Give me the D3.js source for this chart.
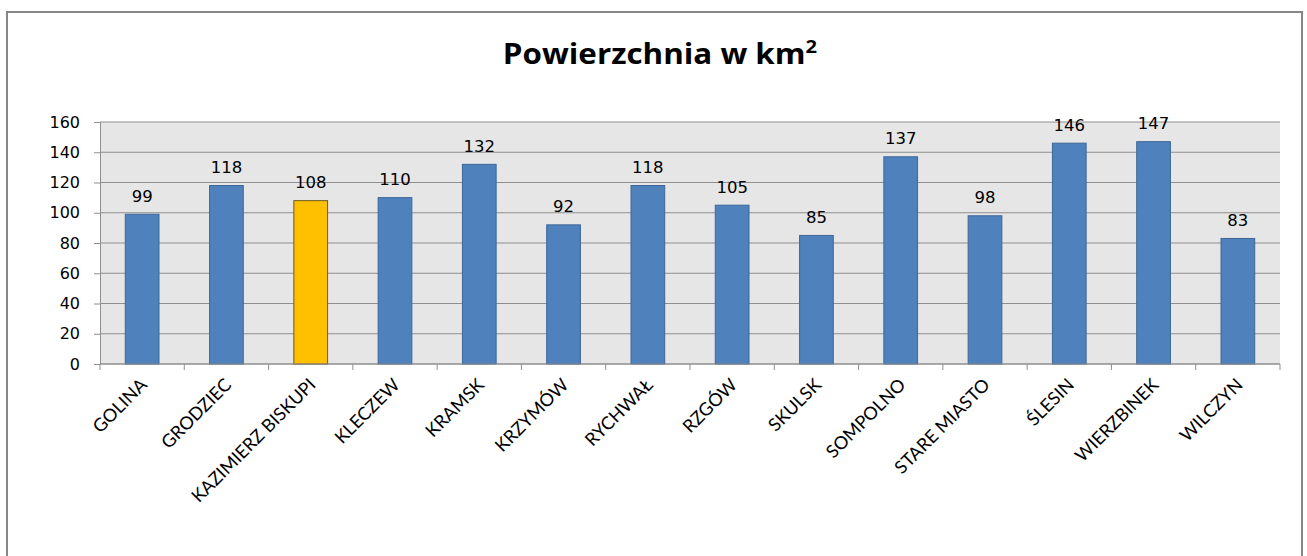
<!DOCTYPE html>
<html><head><meta charset="utf-8">
<script src="https://cdn.jsdelivr.net/npm/d3@7"></script>
<style>body{margin:0;background:#fff}svg{display:block}</style>
</head><body>
<script>
const categories = ["GOLINA","GRODZIEC","KAZIMIERZ BISKUPI","KLECZEW","KRAMSK","KRZYMÓW","RYCHWAŁ","RZGÓW","SKULSK","SOMPOLNO","STARE MIASTO","ŚLESIN","WIERZBINEK","WILCZYN"];
const values = [99,118,108,110,132,92,118,105,85,137,98,146,147,83];
const highlighted = ["KAZIMIERZ BISKUPI"];
const yTicks = [0,20,40,60,80,100,120,140,160];
const title = "Powierzchnia w km";
const titleSup = "2";

const W = 1307, H = 556;
const svg = d3.select("body").append("svg").attr("width", W).attr("height", H);
svg.append("rect").attr("x",7).attr("y",12).attr("width",1295).attr("height",560)
  .attr("fill","#fff").attr("stroke","#878787").attr("stroke-width",2);

const m = {left:100, right:1280, top:122, bottom:364};
const x = d3.scaleBand().domain(categories).range([m.left,m.right]).paddingInner(0.6).paddingOuter(0.3);
const y = d3.scaleLinear().domain([0,160]).range([m.bottom,m.top]);

svg.append("rect").attr("x",m.left).attr("y",m.top).attr("width",m.right-m.left).attr("height",m.bottom-m.top).attr("fill","#e6e6e6");

const g = svg.append("g");
g.selectAll("line.grid").data(yTicks).join("line").attr("class","grid")
  .attr("x1",m.left).attr("x2",m.right).attr("y1",d=>y(d)).attr("y2",d=>y(d))
  .attr("stroke","#8f8f8f").attr("stroke-width",1);

// y axis
const yAxis = svg.append("g").attr("transform",`translate(${m.left},0)`)
  .call(d3.axisLeft(y).tickValues(yTicks).tickSize(6).tickPadding(14));
yAxis.select(".domain").attr("stroke","#8f8f8f");
yAxis.selectAll(".tick line").attr("stroke","#8f8f8f");
yAxis.selectAll("text").attr("font-family","DejaVu Sans").attr("font-size",16).attr("fill","#000");

// x axis
const xAxisG = svg.append("g").attr("transform",`translate(0,${m.bottom})`);
xAxisG.append("line").attr("x1",m.left).attr("x2",m.right).attr("stroke","#8f8f8f");
xAxisG.selectAll("line.t").data(d3.range(categories.length+1)).join("line").attr("class","t")
  .attr("x1",i=>m.left+i*(m.right-m.left)/categories.length).attr("x2",i=>m.left+i*(m.right-m.left)/categories.length)
  .attr("y1",0).attr("y2",6).attr("stroke","#8f8f8f");
xAxisG.selectAll("text").data(categories).join("text")
  .attr("transform",d=>`translate(${x(d)+x.bandwidth()/2+6},${22}) rotate(-45)`)
  .attr("text-anchor","end").attr("font-family","Lato").attr("font-size",18).attr("fill","#000")
  .text(d=>d);

// bars
g.selectAll("rect.bar").data(categories).join("rect").attr("class","bar")
  .attr("x",d=>x(d)).attr("width",x.bandwidth())
  .attr("y",(d,i)=>y(values[i])).attr("height",(d,i)=>y(0)-y(values[i]))
  .attr("fill",d=>highlighted.includes(d)?"#ffc000":"#4f81bd")
  .attr("stroke",d=>highlighted.includes(d)?"#6b5a1a":"#3d6797").attr("stroke-width",1);

g.selectAll("text.lbl").data(categories).join("text").attr("class","lbl")
  .attr("x",d=>x(d)+x.bandwidth()/2).attr("y",(d,i)=>y(values[i])-12.5)
  .attr("text-anchor","middle").attr("font-family","DejaVu Sans").attr("font-size",16.5).attr("fill","#000")
  .text((d,i)=>values[i]);

// title
const t = svg.append("text").attr("transform","translate(660,64) scale(1.12,1)").attr("text-anchor","middle")
  .attr("font-family","Open Sans").attr("font-weight","bold").attr("font-size",28).attr("fill","#000");
t.append("tspan").text(title);
t.append("tspan").attr("font-size",18).attr("dy",-11).text(titleSup);
</script>
</body></html>
